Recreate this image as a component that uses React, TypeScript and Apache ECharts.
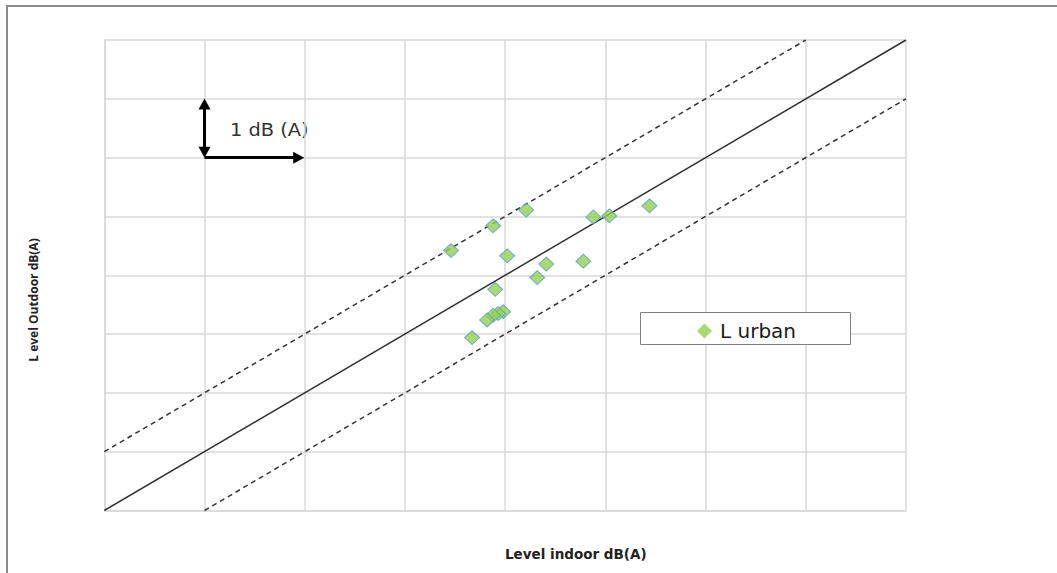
import React, { useEffect, useRef } from "react";
import * as echarts from "echarts";

// Axis range in dB(A) steps (no tick labels are printed)
const axisMin = 0;
const axisMax = 8;
const axisStep = 1;

// Measured indoor / outdoor levels, urban sites
const indoorLevel = [3.46, 3.88, 4.21, 4.88, 5.04, 5.44, 4.02, 4.41, 4.78, 4.32, 3.9, 3.98, 3.93, 3.88, 3.82, 3.67];
const outdoorLevel = [4.42, 4.84, 5.11, 4.99, 5.01, 5.18, 4.33, 4.19, 4.24, 3.96, 3.76, 3.38, 3.35, 3.32, 3.24, 2.94];

// Reference lines: equality and ±1 dB(A) band
const equalityLine = [[0, 0], [8, 8]];
const upperBand = [[0, 1], [7, 8]];
const lowerBand = [[1, 0], [8, 7]];

// Scale indicator: 1 dB(A) step in each direction
const scaleOrigin = [1, 6];
const scaleStep = 1;

const seriesName = "L urban";
const xTitle = "Level indoor dB(A)";
const yTitle = "L evel Outdoor dB(A)";
const scaleLabel = "1 dB (A)";

export default function App() {
  const ref = useRef<HTMLDivElement>(null);

  useEffect(() => {
    if (!ref.current) return;
    const chart = echarts.init(ref.current, null, { renderer: "svg" });

    const gridColor = "#d9d9d9";
    const axisCommon = {
      type: "value",
      min: axisMin,
      max: axisMax,
      interval: axisStep,
      axisLabel: { show: false },
      axisTick: { show: false },
      axisLine: { show: true, lineStyle: { color: gridColor, width: 1.5 } },
      splitLine: { show: true, lineStyle: { color: gridColor, width: 1.5 } },
    };

    const [ox, oy] = scaleOrigin;
    // markLine symbols sit centred on the end point; pull the ends in so
    // the arrow tips land exactly one step apart
    const headInsetX = 0.06;
    const headInsetY = 0.09;

    chart.setOption({
      animation: false,
      grid: { left: 104.3, right: 151, top: 40, bottom: 62.5 },
      xAxis: { ...axisCommon },
      yAxis: { ...axisCommon },
      legend: {
        data: [{ name: seriesName, icon: "diamond", itemStyle: { borderWidth: 0 } }],
        left: 697,
        top: 321,
        padding: 0,
        itemWidth: 15,
        itemHeight: 15,
        z: 10,
        textStyle: {
          fontFamily: "DejaVu Sans",
          fontSize: 20,
          color: "#1a1a1a",
          padding: [0, 0, 0, 3],
        },
      },
      graphic: [
        // outer chart frame (top and left edges)
        {
          type: "line",
          shape: { x1: 6, y1: 6, x2: 1057, y2: 6 },
          style: { stroke: "#8a8a8a", lineWidth: 2 },
        },
        {
          type: "line",
          shape: { x1: 7, y1: 5, x2: 7, y2: 573 },
          style: { stroke: "#8a8a8a", lineWidth: 2 },
        },
        // legend frame
        {
          type: "rect",
          z: 5,
          shape: { x: 640.5, y: 312.5, width: 210, height: 32 },
          style: { fill: "#ffffff", stroke: "#808080", lineWidth: 1 },
        },
        {
          type: "text",
          x: 230,
          y: 130,
          scaleX: 1.14,
          style: {
            text: scaleLabel,
            fontFamily: "DejaVu Sans",
            fontSize: 17,
            fill: "#333333",
            textVerticalAlign: "middle",
          },
        },
        {
          type: "text",
          x: 505,
          y: 554,
          style: {
            text: xTitle,
            fontFamily: "DejaVu Sans",
            fontWeight: "bold",
            fontSize: 13.5,
            fill: "#222222",
            textVerticalAlign: "middle",
          },
        },
        {
          type: "text",
          x: 33,
          y: 300,
          rotation: Math.PI / 2,
          style: {
            text: yTitle,
            fontFamily: "Open Sans",
            fontWeight: "bold",
            fontSize: 12,
            fill: "#222222",
            textAlign: "center",
            textVerticalAlign: "middle",
          },
        },
      ],
      series: [
        {
          name: "equality",
          type: "line",
          data: equalityLine,
          symbol: "none",
          silent: true,
          lineStyle: { color: "#333333", width: 1.5 },
          z: 3,
        },
        {
          name: "upper",
          type: "line",
          data: upperBand,
          symbol: "none",
          silent: true,
          lineStyle: { color: "#333333", width: 1.5, type: [5, 4] },
          z: 3,
        },
        {
          name: "lower",
          type: "line",
          data: lowerBand,
          symbol: "none",
          silent: true,
          lineStyle: { color: "#333333", width: 1.5, type: [5, 4] },
          z: 3,
        },
        {
          name: "scale",
          type: "line",
          data: [],
          silent: true,
          markLine: {
            silent: true,
            symbolSize: [12, 11],
            label: { show: false },
            lineStyle: { color: "#000000", width: 3, type: "solid" },
            data: [
              [
                { coord: [ox, oy + headInsetY], symbol: "triangle" },
                { coord: [ox, oy + scaleStep - headInsetY], symbol: "triangle" },
              ],
              [
                { coord: [ox, oy], symbol: "none" },
                { coord: [ox + scaleStep - headInsetX, oy], symbol: "triangle" },
              ],
            ],
          },
        },
        {
          name: seriesName,
          type: "scatter",
          data: indoorLevel.map((x, i) => [x, outdoorLevel[i]]),
          symbol: "diamond",
          symbolSize: [15, 14],
          itemStyle: { color: "#92d050", borderColor: "#5b9bd5", borderWidth: 1 },
          z: 4,
        },
      ],
    });

    return () => chart.dispose();
  }, []);

  return (
    <div
      ref={ref}
      style={{ position: "absolute", left: 0, top: 0, width: 1057, height: 573, background: "#ffffff" }}
    />
  );
}
